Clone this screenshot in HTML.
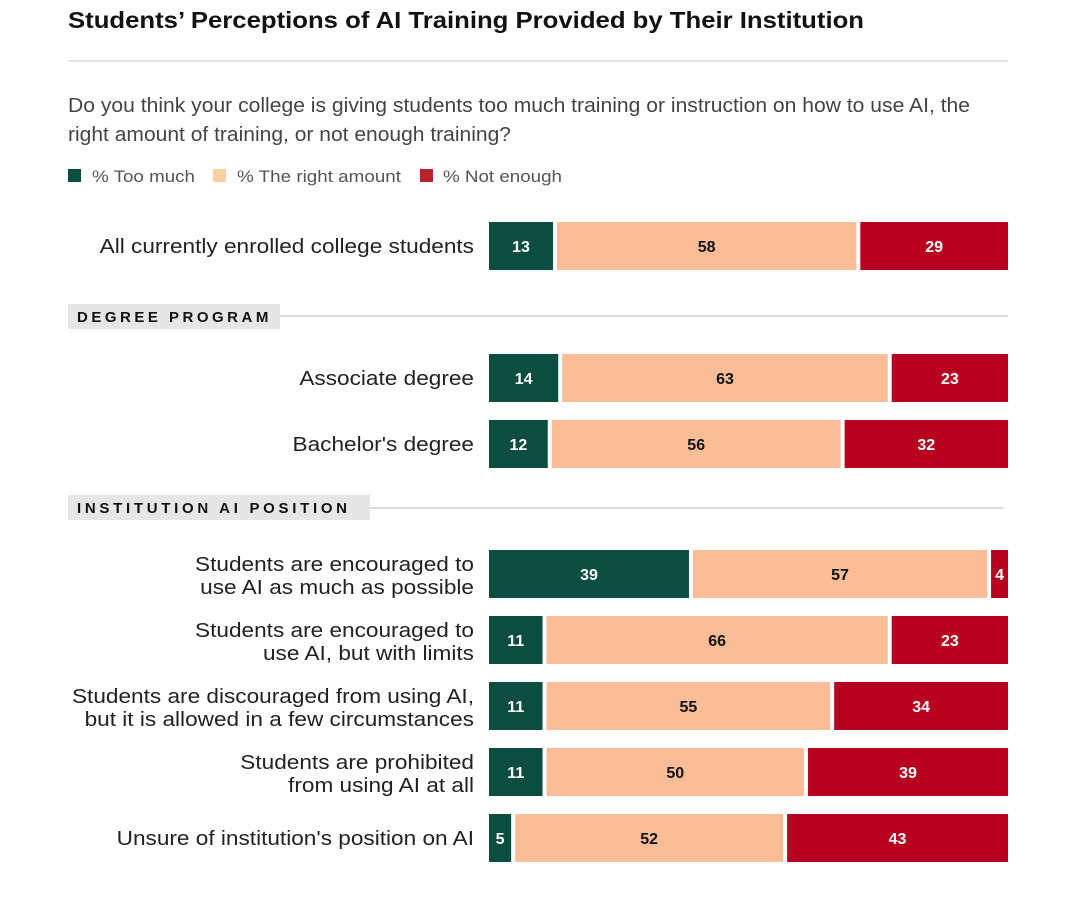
<!DOCTYPE html>
<html><head><meta charset="utf-8"><style>
body{margin:0;background:#fff;font-family:"Liberation Sans",sans-serif;}
#wrap{position:relative;width:1080px;height:901px;overflow:hidden;}
</style></head><body>
<div id="wrap">
<svg id="chart" width="1080" height="901">
<text x="68" y="28" font-size="23" font-weight="bold" fill="#111" textLength="796" lengthAdjust="spacingAndGlyphs">Students’ Perceptions of AI Training Provided by Their Institution</text>
<line x1="68" y1="61" x2="1008" y2="61" stroke="#ccc"/>
<text x="68" y="112" font-size="20" fill="#444" textLength="902" lengthAdjust="spacingAndGlyphs">Do you think your college is giving students too much training or instruction on how to use AI, the</text>
<text x="68" y="141" font-size="20" fill="#444" textLength="443" lengthAdjust="spacingAndGlyphs">right amount of training, or not enough training?</text>
<g>
<rect x="68" y="169" width="13" height="13" fill="#0d4d40"/>
<text x="92" y="182" font-size="17" fill="#555" textLength="103" lengthAdjust="spacingAndGlyphs">% Too much</text>
<rect x="213" y="169" width="13" height="13" fill="#f9cfa4"/>
<text x="237" y="182" font-size="17" fill="#555" textLength="164" lengthAdjust="spacingAndGlyphs">% The right amount</text>
<rect x="420" y="169" width="13" height="13" fill="#b8222c"/>
<text x="443" y="182" font-size="17" fill="#555" textLength="119" lengthAdjust="spacingAndGlyphs">% Not enough</text>
</g>
<g>
<rect x="68" y="304" width="212" height="25" fill="#e6e6e6"/>
<text x="77" y="322" font-size="15" font-weight="bold" letter-spacing="3.5" fill="#111">DEGREE PROGRAM</text>
<line x1="280" y1="316" x2="1008" y2="316" stroke="#bbb"/>
</g>
<g>
<rect x="68" y="495" width="302" height="25" fill="#e6e6e6"/>
<text x="77" y="513" font-size="15" font-weight="bold" letter-spacing="3.7" fill="#111">INSTITUTION AI POSITION</text>
<line x1="370" y1="508" x2="1003" y2="508" stroke="#bbb"/>
</g>
<g id="bars"></g>
</svg>
</div>
<script>
const categories = [["All currently enrolled college students"],["Associate degree"],["Bachelor's degree"],["Students are encouraged to","use AI as much as possible"],["Students are encouraged to","use AI, but with limits"],["Students are discouraged from using AI,","but it is allowed in a few circumstances"],["Students are prohibited","from using AI at all"],["Unsure of institution's position on AI"]];
const tooMuch = [13,14,12,39,11,11,11,5];
const rightAmount = [58,63,56,57,66,55,50,52];
const notEnough = [29,23,32,4,23,34,39,43];
const rowTops = [222,354,420,550,616,682,748,814];
const NS="http://www.w3.org/2000/svg";
const g=document.getElementById('bars');
const x0=488,x1=1011,bh=48;
function xs(v){return v/100*(x1-x0);}
function mk(t,a){const e=document.createElementNS(NS,t);for(const k in a)e.setAttribute(k,a[k]);return e;}
const series=[[tooMuch,"#0d4d40","#fff","too-much"],[rightAmount,"#fbbd98","#111","right-amount"],[notEnough,"#b8001f","#fff","not-enough"]];
categories.forEach((c,i)=>{
  const y=rowTops[i];
  const lines=c;
  lines.forEach((ln,j)=>{
    const t=mk('text',{x:474,y:(lines.length==1? y+31 : y+21+j*23),'font-size':20,fill:'#222','text-anchor':'end'});
    
    
    t.textContent=ln;g.appendChild(t);
    const L=t.getComputedTextLength();
    t.setAttribute('textLength',L*1.13);
    t.setAttribute('lengthAdjust','spacingAndGlyphs');
  });
  let cx=x0;
  series.forEach(s=>{
    const v=s[0][i],w=xs(v);
    const r=mk('rect',{x:cx+1,y:y,width:Math.max(w-4,1),height:bh,fill:s[1]});
    
    
    g.appendChild(r);
    const t=mk('text',{x:cx+w/2-1,y:y+30,'font-size':16,'font-weight':'bold',fill:s[2],'text-anchor':'middle'});
    
    
    t.textContent=v;g.appendChild(t);
    cx+=w;
  });
});
</script>
</body></html>
